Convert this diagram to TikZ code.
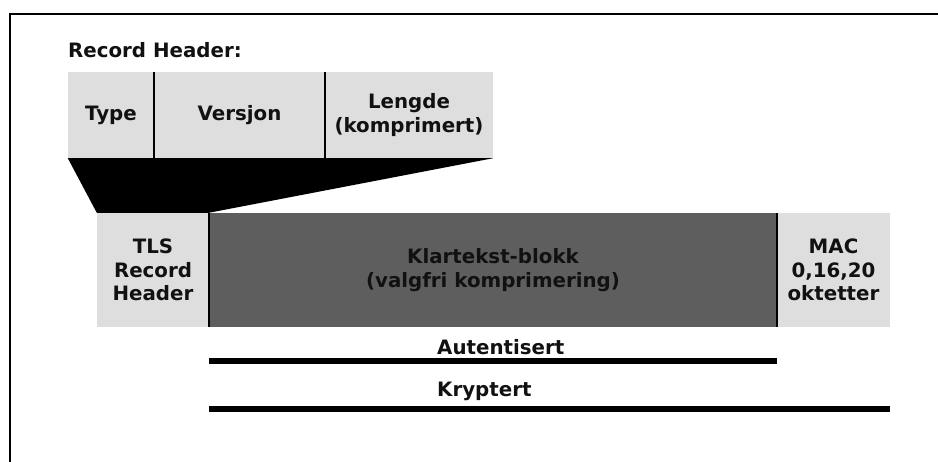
\documentclass[tikz,border=0pt]{standalone}
\usepackage{fontspec}
\setmainfont{DejaVu Sans}
\usepackage{tikz}
\usetikzlibrary{positioning}
\definecolor{recLight}{HTML}{DEDEDE}
\definecolor{recDark}{HTML}{5E5E5E}
\definecolor{recText}{HTML}{111111}

\begin{document}
\begin{tikzpicture}[
  x=1pt, y=-1pt,
  font=\fontsize{19.8}{23.5}\selectfont\bfseries,
  field/.style={
    rectangle, fill=recLight, inner sep=0pt, align=center, text=recText,
    minimum height=86pt
  },
  part/.style={field, minimum height=114pt},
  sep/.style={draw=black, line width=2pt},
  bar/.style={draw=black, line width=6.5pt},
  lbl/.style={anchor=base west, text=recText, inner sep=0pt}
]
\useasboundingbox (0,0) rectangle (938,462);

% ---- frame ----------------------------------------------------------------
\draw[line width=2.5pt] (938,14) -- (10,14) -- (10,462);

% ---- record header fields -------------------------------------------------
\node[lbl] (title) at (68,58) {Record Header:};
\node[field, minimum width=86pt]  (type)    at (111,115)   {Type};
\node[field, minimum width=171pt] (versjon) at (239.5,115) {Versjon};
\node[field, minimum width=168pt] (lengde)  at (409,115)   {Lengde\\(komprimert)};
\draw[sep] (type.north east) -- (type.south east);
\draw[sep] (versjon.north east) -- (versjon.south east);

% ---- record ---------------------------------------------------------------
\node[part, minimum width=112pt] (tls)  at (153,270)   {TLS\\Record\\Header};
\node[part, minimum width=568pt, fill=recDark] (klar) at (493,270)
  {Klartekst-blokk\\(valgfri komprimering)};
\node[part, minimum width=113pt] (mac)  at (833.5,270) {MAC\\0,16,20\\oktetter};
\draw[sep] (klar.north west) -- (klar.south west);
\draw[sep] (klar.north east) -- (klar.south east);

% ---- zoom wedge -----------------------------------------------------------
\fill[black] (type.south west) -- (lengde.south east) -- (klar.north west)
  -- (tls.north west) -- cycle;

% ---- coverage bars --------------------------------------------------------
\node[lbl] (auth) at (437,355) {Autentisert};
\draw[bar] (klar.west |- 0,361) -- (klar.east |- 0,361);
\node[lbl] (kryp) at (437,397) {Kryptert};
\draw[bar] (klar.west |- 0,409) -- (mac.east |- 0,409);

\end{tikzpicture}
\end{document}
